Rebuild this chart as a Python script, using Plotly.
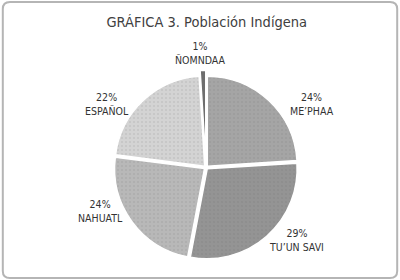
import plotly.graph_objects as go

labels = ["ME’PHAA", "TU’UN SAVI", "NAHUATL", "ESPAÑOL", "ÑOMNDAA"]
values = [24, 29, 24, 22, 1]
colors = ["#a5a5a5", "#949494", "#b8b8b8", "#d3d3d3", "#6e6e6e"]
pulls = [0.02, 0.02, 0.02, 0.02, 0.08]

# label placement (paper coords, layout only)
label_pos = [(0.78, 0.629), (0.742, 0.143), (0.252, 0.246), (0.267, 0.629), (0.5, 0.81)]

FONT = "Noto Sans ExtraCondensed, Noto Sans Condensed, DejaVu Sans Condensed, sans-serif"

fig = go.Figure(go.Pie(
    labels=labels, values=values, sort=False, direction="clockwise", rotation=0,
    pull=pulls,
    marker=dict(colors=colors, line=dict(color="white", width=1.5),
                pattern=dict(shape=".", size=4, solidity=0.12, fgcolor="#5f5f5f",
                             fgopacity=0.25, fillmode="overlay")),
    textinfo="none",
    showlegend=False,
    domain=dict(x=[0.272, 0.758], y=[0.055, 0.749]),
    hoverinfo="skip",
))

total = sum(values)
annotations = []
for lab, val, (px, py) in zip(labels, values, label_pos):
    annotations.append(dict(
        x=px, y=py, xref="paper", yref="paper", showarrow=False,
        xanchor="center", yanchor="middle",
        text=f"{round(100 * val / total)}%<br>{lab}", align="center",
        font=dict(family=FONT, size=10.5, color="#333333"),
    ))

fig.update_layout(
    width=400, height=280,
    margin=dict(l=0, r=0, t=0, b=0),
    paper_bgcolor="white",
    title=dict(text="GRÁFICA 3. Población Indígena", x=0.517, xanchor="center", y=0.922, yanchor="middle",
               font=dict(family=FONT, size=14.5, color="#404040")),
    annotations=annotations,
    shapes=[dict(type="path", xref="paper", yref="paper",
                 path="M 0.025,0.993 L 0.975,0.993 Q 0.993,0.993 0.993,0.968 L 0.993,0.032 Q 0.993,0.007 0.975,0.007 L 0.025,0.007 Q 0.007,0.007 0.007,0.032 L 0.007,0.968 Q 0.007,0.993 0.025,0.993 Z",
                 line=dict(color="#b5b5b5", width=2))],
)

fig.write_html("out.html")
